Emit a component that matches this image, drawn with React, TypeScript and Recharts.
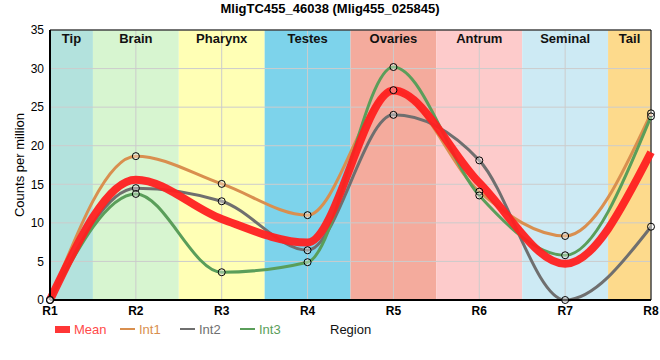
import { LineChart, Line, XAxis, YAxis, CartesianGrid, ReferenceArea, ReferenceLine } from 'recharts';

const regions = ['R1', 'R2', 'R3', 'R4', 'R5', 'R6', 'R7', 'R8'];
const tissues = ['Tip', 'Brain', 'Pharynx', 'Testes', 'Ovaries', 'Antrum', 'Seminal', 'Tail'];
const tissueColors = ['#b3e2dd', '#d7f5d0', '#ffffb5', '#7dd3eb', '#f4ab9d', '#fdcbcb', '#cdeaf4', '#fdda8c'];

const meanValues = [0, 15.6, 10.5, 7.45, 27.15, 15.2, 4.7, 19.15];
const int1Values = [0, 18.65, 15.05, 11.0, 27.2, 14.05, 8.3, 24.2];
const int2Values = [0, 14.5, 12.8, 6.45, 24.0, 18.1, 0, 9.5];
const int3Values = [0, 13.75, 3.6, 4.9, 30.2, 13.55, 5.8, 23.8];

const yTicks = [0, 5, 10, 15, 20, 25, 30, 35];

const series = [
    { key: 'int1', name: 'Int1', color: '#d98f4f' },
    { key: 'int2', name: 'Int2', color: '#6f6f6f' },
    { key: 'int3', name: 'Int3', color: '#5a9e5a' },
];
const meanColor = '#ff2020';

const rows = regions.map((r, i) => ({
    x: i,
    region: r,
    mean: meanValues[i],
    int1: int1Values[i],
    int2: int2Values[i],
    int3: int3Values[i],
}));

const font = '"Liberation Sans", Arial, sans-serif';
const last = regions.length - 1;

export default function App() {
    return (
        <div style={{ position: 'absolute', left: 0, top: 0, width: 660, height: 360, background: '#fff', fontFamily: font }}>
            <style>{`body{margin:0}`}</style>
            <div style={{ position: 'absolute', top: 1, left: 0, width: 660, textAlign: 'center', fontWeight: 'bold', fontSize: 13 }}>
                MligTC455_46038 (Mlig455_025845)
            </div>
            <LineChart width={660} height={360} data={rows} margin={{ top: 30, right: 9, left: 10, bottom: 40 }}>
                {tissues.map((t, i) => (
                    <ReferenceArea
                        key={t}
                        x1={Math.max(0, i - 0.5)}
                        x2={Math.min(last, i + 0.5)}
                        y1={0}
                        y2={35}
                        fill={tissueColors[i]}
                        fillOpacity={1}
                        stroke="none"
                        zIndex={-200}
                        label={{ value: t, position: 'insideTop', offset: 4, fill: '#111', fontSize: 13, fontWeight: 'bold', fontFamily: font }}
                    />
                ))}
                <CartesianGrid stroke="#cccccc" zIndex={-100} />
                <XAxis
                    type="number"
                    dataKey="x"
                    domain={[0, last]}
                    ticks={rows.map(r => r.x)}
                    tickFormatter={(v) => regions[v]}
                    stroke="#000"
                    strokeWidth={2}
                    tickLine={false}
                    tickSize={4}
                    height={20}
                    tick={{ fill: '#000', fontSize: 12, fontWeight: 'bold', fontFamily: font }}
                />
                <YAxis
                    domain={[0, 35]}
                    ticks={yTicks}
                    width={40}
                    stroke="#000"
                    strokeWidth={2}
                    tickLine={false}
                    tickSize={4}
                    tick={{ fill: '#000', fontSize: 12, fontFamily: font }}
                    label={{ value: 'Counts per million', angle: -90, position: 'insideLeft', offset: 9, style: { textAnchor: 'middle', fill: '#000', fontSize: 13, fontFamily: font } }}
                />
                <ReferenceLine y={35} stroke="#000" strokeWidth={1} />
                <ReferenceLine x={last} stroke="#000" strokeWidth={1} />
                {series.map(s => (
                    <Line
                        key={s.key}
                        type="monotoneX"
                        dataKey={s.key}
                        stroke={s.color}
                        strokeWidth={3}
                        dot={false}
                        activeDot={false}
                        isAnimationActive={false}
                    />
                ))}
                <Line
                    type="monotoneX"
                    dataKey="mean"
                    stroke={meanColor}
                    strokeOpacity={0.95}
                    strokeWidth={8}
                    dot={false}
                    activeDot={false}
                    isAnimationActive={false}
                />
                {series.map(s => (
                    <Line
                        key={s.key + '-dots'}
                        type="monotoneX"
                        dataKey={s.key}
                        stroke="none"
                        dot={{ r: 3.5, fill: '#ffffff', fillOpacity: 0.35, stroke: '#000', strokeWidth: 1 }}
                        activeDot={false}
                        isAnimationActive={false}
                    />
                ))}
            </LineChart>
            <div style={{ position: 'absolute', top: 321, left: 55, height: 16, display: 'flex', alignItems: 'center', fontSize: 13 }}>
                <span style={{ display: 'inline-block', width: 15, height: 7, background: meanColor, opacity: 0.9 }} />
                <span style={{ marginLeft: 4, color: '#ff4a4a', width: 46 }}>Mean</span>
                {series.map(s => (
                    <span key={s.key} style={{ display: 'flex', alignItems: 'center', width: 60 }}>
                        <span style={{ display: 'inline-block', width: 15, height: 2, background: s.color }} />
                        <span style={{ marginLeft: 4, color: s.color }}>{s.name}</span>
                    </span>
                ))}
            </div>
            <div style={{ position: 'absolute', top: 322, left: 330, fontSize: 13, color: '#111' }}>Region</div>
        </div>
    );
}
